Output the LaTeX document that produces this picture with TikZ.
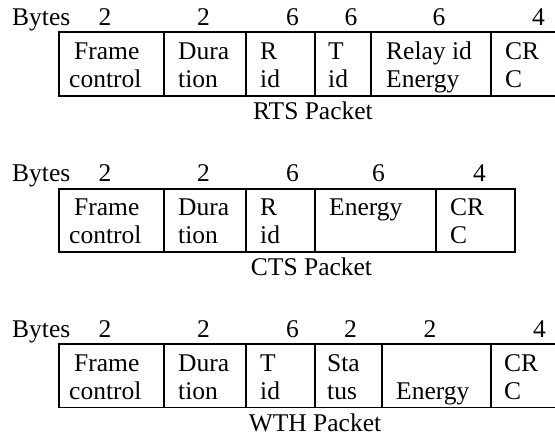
\documentclass[tikz,border=0pt]{standalone}
\usepackage{fontspec}
\setmainfont{Liberation Serif}
\begin{document}
\begin{tikzpicture}[x=1pt,y=-1pt,
  txt/.style={inner sep=0pt, anchor=base west, font=\fontsize{25.5}{28}\selectfont},
  num/.style={inner sep=0pt, anchor=base, font=\fontsize{25.5}{28}\selectfont},
  pkttitle/.style={inner sep=0pt, anchor=base, font=\fontsize{25.5}{28}\selectfont},
  rule/.style={line width=1.9pt, line join=miter}]
\useasboundingbox (0,0) rectangle (555,437);

% ---------------- RTS packet ----------------
\begin{scope}
  \draw[rule] (557,32.3) -- (59,32.3) -- (59,95.7) -- (557,95.7);
  \foreach \x in {164,246,315,371,491} \draw[rule] (\x,32.3) -- (\x,95.7);
  \node[txt] (rb) at (12,25.5) {Bytes};
  \foreach \x/\n [count=\i] in {105/2,203.5/2,292.5/6,351/6,439/6,538.5/4}
    \node[num] (rn\i) at (\x,25.5) {\n};
  \node[txt] (r1a) at (74,59) {Frame};   \node[txt] (r1b) at (69,87.5) {control};
  \node[txt] (r2a) at (178,59) {Dura};   \node[txt] (r2b) at (178,87.5) {tion};
  \node[txt] (r3a) at (260,59) {R};      \node[txt] (r3b) at (260,87.5) {id};
  \node[txt] (r4a) at (328,59) {T};      \node[txt] (r4b) at (328,87.5) {id};
  \node[txt] (r5a) at (386,59) {Relay id}; \node[txt] (r5b) at (386,87.5) {Energy};
  \node[txt] (r6a) at (505,59) {CR};     \node[txt] (r6b) at (505,87.5) {C};
  \node[pkttitle] (rl) at (313,119) {RTS Packet};
\end{scope}

% ---------------- CTS packet ----------------
\begin{scope}[shift={(0,156.4)}]
  \draw[rule] (59,32.3) rectangle (515,95.2);
  \foreach \x in {164,246,315,436} \draw[rule] (\x,32.3) -- (\x,95.2);
  \node[txt] (cb) at (12,25.5) {Bytes};
  \foreach \x/\n [count=\i] in {105/2,203.5/2,292.5/6,378.5/6,479.5/4}
    \node[num] (cn\i) at (\x,25.5) {\n};
  \node[txt] (c1a) at (74,59) {Frame};   \node[txt] (c1b) at (69,87.5) {control};
  \node[txt] (c2a) at (178,59) {Dura};   \node[txt] (c2b) at (178,87.5) {tion};
  \node[txt] (c3a) at (260,59) {R};      \node[txt] (c3b) at (260,87.5) {id};
  \node[txt] (c4a) at (329,59) {Energy};
  \node[txt] (c5a) at (450,59) {CR};     \node[txt] (c5b) at (450,87.5) {C};
  \node[pkttitle] (cl) at (311.5,119) {CTS Packet};
\end{scope}

% ---------------- WTH packet ----------------
\begin{scope}[shift={(0,312)}]
  \draw[rule] (557,32.3) -- (59,32.3) -- (59,95.5) -- (557,95.5);
  \foreach \x in {164,246,315,382,491} \draw[rule] (\x,32.3) -- (\x,95.5);
  \node[txt] (wb) at (12,25.5) {Bytes};
  \foreach \x/\n [count=\i] in {105/2,203.5/2,292.5/6,350.5/2,430/2,539.5/4}
    \node[num] (wn\i) at (\x,25.5) {\n};
  \node[txt] (w1a) at (74,59) {Frame};   \node[txt] (w1b) at (69,87.5) {control};
  \node[txt] (w2a) at (178,59) {Dura};   \node[txt] (w2b) at (178,87.5) {tion};
  \node[txt] (w3a) at (260,59) {T};      \node[txt] (w3b) at (260,87.5) {id};
  \node[txt] (w4a) at (327,59) {Sta};    \node[txt] (w4b) at (327,87.5) {tus};
  \node[txt] (w5b) at (396,87.5) {Energy};
  \node[txt] (w6a) at (504,59) {CR};     \node[txt] (w6b) at (504,87.5) {C};
  \node[pkttitle] (wl) at (315,119) {WTH Packet};
\end{scope}
\end{tikzpicture}
\end{document}
